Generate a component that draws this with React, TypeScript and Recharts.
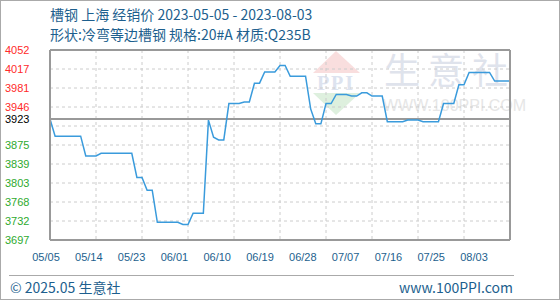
import {
  LineChart,
  Line,
  XAxis,
  YAxis,
  CartesianGrid,
  ReferenceLine,
} from "recharts";

// daily prices 05/05 .. 08/03 (yuan/ton)
const prices = [
  3923, 3891, 3891, 3891, 3891, 3891, 3891, 3854, 3854, 3854,
  3859, 3859, 3859, 3859, 3859, 3859, 3859, 3814, 3814, 3790,
  3790, 3730, 3730, 3730, 3730, 3730, 3726, 3726, 3747, 3747,
  3747, 3921, 3889, 3884, 3884, 3952, 3952, 3952, 3955, 3955,
  3990, 3990, 4011, 4011, 4011, 4023, 4023, 4003, 4003, 4003,
  4003, 3942, 3914, 3914, 3952, 3952, 3969, 3969, 3969, 3966,
  3966, 3972, 3972, 3966, 3966, 3966, 3918, 3918, 3918, 3918,
  3921, 3921, 3921, 3918, 3918, 3918, 3918, 3952, 3952, 3952,
  3987, 3987, 4010, 4010, 4010, 4010, 4010, 3994, 3994, 3994,
  3994,
];

const xTicks = [0, 9, 18, 27, 36, 45, 54, 63, 72, 81, 90];
const xLabels = ["05/05", "05/14", "05/23", "06/01", "06/10", "06/19", "06/28", "07/07", "07/16", "07/25", "08/03"];

const base = 3923;
const yTicks = [3697, 3732.5, 3768, 3803.5, 3839, 3874.5, 3910, 3923, 3945.5, 3981, 4016.5, 4052];
const leftLabels = ["3697", "3732", "3768", "3803", "3839", "3875", "", "3923", "3946", "3981", "4017", "4052"];
const rightLabels = ["-5.77%", "-4.86%", "-3.95%", "-3.05%", "-2.14%", "-1.23%", "", "0.00%", "0.58%", "1.49%", "2.40%", "3.30%"];

const data = prices.map((p, i) => ({ day: i, price: p }));

const tickFont = "'Liberation Sans', Arial, sans-serif";
const cjkFont = "'Noto Sans CJK SC', 'Noto Sans', sans-serif";
const blue = "#1d5f8e";

const colorFor = (v: number) => (v > base ? "#ff2a2a" : v < base ? "#2eaa2e" : "#000");

const LeftTick = ({ y, payload }: any) => {
  const i = yTicks.indexOf(payload.value);
  return (
    <text x={5} y={y} dy={4} fontSize={11} fontFamily={tickFont} fill={colorFor(payload.value)}>
      {leftLabels[i]}
    </text>
  );
};

const RightTick = ({ y, payload }: any) => {
  const i = yTicks.indexOf(payload.value);
  return (
    <text x={515} y={y} dy={4} fontSize={11} fontFamily={tickFont} fill={colorFor(payload.value)}>
      {rightLabels[i]}
    </text>
  );
};

const DateTick = ({ x, payload }: any) => {
  const i = xTicks.indexOf(payload.value);
  // labels are spread a little tighter than the grid
  const lx = 46 + (x - 50) * (428 / 460);
  return (
    <text x={lx} y={261} textAnchor="middle" fontSize={11} fontFamily={tickFont} fill={blue}>
      {xLabels[i]}
    </text>
  );
};

const Watermark = () => (
  <svg width={560} height={300} style={{ position: "absolute", left: 0, top: 0 }}>
    <polygon points="313,73 336,51 360,73" fill="#f9dede" />
    <polygon points="313,93 360,93 336,115" fill="#def0de" />
    <text x={336} y={90} textAnchor="middle" fontSize={20} fontFamily="'Liberation Serif', serif" fontWeight="bold" fill="#dde3ef" letterSpacing={2}>
      PPI
    </text>
    <text x={384} y={84} fontSize={36} fontFamily={cjkFont} fill="#dfe3ec" letterSpacing={8}>
      生意社
    </text>
    <text x={383} y={111} fontSize={16} fontFamily={tickFont} fill="#e6e6e6">
      WWW.100PPI.COM
    </text>
  </svg>
);

export default function App() {
  return (
    <div style={{ position: "relative", width: 560, height: 300, background: "#fff" }}>
      <style>{"body{margin:0}"}</style>
      <Watermark />
      <div style={{ position: "absolute", left: 0, top: 0 }}>
        <LineChart width={560} height={300} data={data} margin={{ top: 50, right: 0, bottom: 30, left: 0 }}>
          <CartesianGrid stroke="#cccccc" strokeDasharray="3 3" />
          <XAxis
            dataKey="day"
            type="number"
            domain={[0, 90]}
            ticks={xTicks}
            interval={0}
            height={30}
            tickLine={false}
            axisLine={{ stroke: "#999", strokeWidth: 2 }}
            tick={<DateTick />}
          />
          <YAxis
            domain={[3697, 4052]}
            ticks={yTicks}
            interval={0}
            width={50}
            tickLine={false}
            axisLine={{ stroke: "#999", strokeWidth: 2 }}
            tick={<LeftTick />}
          />
          <YAxis
            yAxisId="r"
            orientation="right"
            domain={[3697, 4052]}
            ticks={yTicks}
            interval={0}
            width={50}
            tickLine={false}
            axisLine={{ stroke: "#999", strokeWidth: 2 }}
            tick={<RightTick />}
          />
          <ReferenceLine y={4052} stroke="#999" strokeWidth={2} />
          <ReferenceLine y={base} stroke="#999" strokeWidth={2} />
          <Line
            type="linear"
            dataKey="price"
            stroke="#3a9bdc"
            strokeWidth={1.5}
            dot={false}
            isAnimationActive={false}
          />
        </LineChart>
      </div>
      <div style={{ position: "absolute", left: 50, top: 4, fontFamily: cjkFont, fontSize: 14, color: blue, lineHeight: "20px", whiteSpace: "nowrap" }}>
        <div>槽钢 上海 经销价 2023-05-05 - 2023-08-03</div>
        <div>形状:冷弯等边槽钢 规格:20#A 材质:Q235B</div>
      </div>
      <div style={{ position: "absolute", left: 9, top: 275, width: 505, borderTop: "1px solid #aaa" }} />
      <div style={{ position: "absolute", left: 10, top: 277, fontFamily: cjkFont, fontSize: 14, color: blue }}>
        © 2025.05 生意社
      </div>
      <div style={{ position: "absolute", right: 47, top: 277, fontFamily: cjkFont, fontSize: 14, color: blue }}>
        www.100PPI.com
      </div>
      <div style={{ position: "absolute", left: 0, top: 0, width: 560, height: 300, boxSizing: "border-box", border: "1px solid #aaa", pointerEvents: "none" }} />
    </div>
  );
}
